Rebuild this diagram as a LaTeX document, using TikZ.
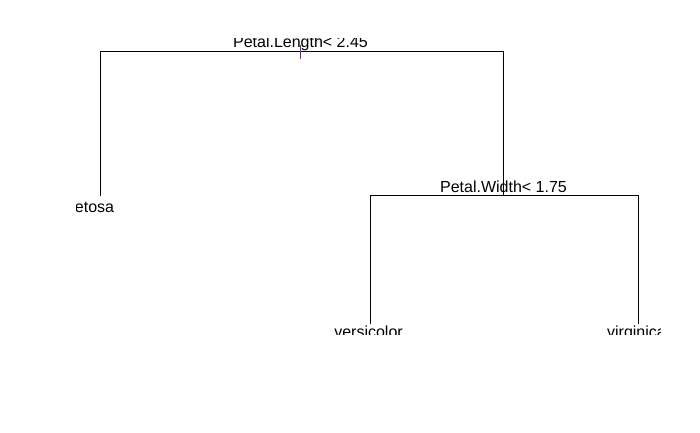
\documentclass[tikz,border=0pt]{standalone}
\usepackage{fontspec}
\setmainfont{Liberation Sans}
\begin{document}
\begin{tikzpicture}[x=1pt,y=-1pt,
  branch/.style={draw=black,line width=1pt},
  lbl/.style={anchor=base,inner sep=0pt,outer sep=0pt,font=\fontsize{16}{19}\selectfont,text=black}]
\useasboundingbox (0,0) rectangle (700,432);
% tree joints
\coordinate (rootL) at (100,51);
\coordinate (rootR) at (503,51);
\coordinate (setosaEnd) at (100,196);
\coordinate (splitTop) at (503,195);
\coordinate (splitL) at (370,195);
\coordinate (splitR) at (638,195);
\coordinate (versEnd) at (370,324);
\coordinate (virgEnd) at (638,324);
\coordinate (tickTop) at (300,45);
\coordinate (tickBot) at (300,59);
% labels (clipped to the plot region)
\begin{scope}
\clip (76,38.5) rectangle (660,334);
\node[lbl] (rootlab) at (300.5,47) {Petal.Length< 2.45};
\node[lbl] (setlab) at (90.5,212) {setosa};
\node[lbl] (splitlab) at (503.5,192) {Petal.Width< 1.75};
\node[lbl] (verslab) at (368.5,337) {versicolor};
\node[lbl] (virglab) at (636.5,337) {virginica};
\end{scope}
% branches
\draw[branch] (setosaEnd) -- (rootL) -- (rootR) -- (splitTop);
\draw[branch] (versEnd) -- (splitL) -- (splitR) -- (virgEnd);
\draw[line width=1pt,draw={rgb,255:red,110;green,40;blue,170}] (tickTop) -- (tickBot);
\end{tikzpicture}
\end{document}
